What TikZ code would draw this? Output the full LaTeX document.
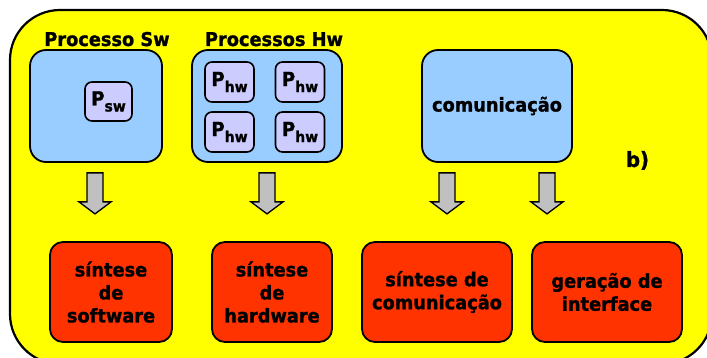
\documentclass[tikz,border=0pt]{standalone}
\usepackage{fontspec}
\setmainfont{DejaVu Sans}[FakeStretch=0.935, BoldFeatures={FakeBold=1.2}]
\usetikzlibrary{calc}
\definecolor{bgyellow}{HTML}{FFFF00}
\definecolor{procblue}{HTML}{99CCFF}
\definecolor{proclav}{HTML}{CCCCFF}
\definecolor{synthred}{HTML}{FF3300}
\definecolor{arrowgray}{HTML}{C0C0C0}
\begin{document}
\begin{tikzpicture}[x=1pt,y=-1pt,
  every node/.style={font=\bfseries\fontsize{19}{23}\selectfont},
  procbox/.style={draw, line width=1.8pt, fill=procblue, rounded corners=16pt, inner sep=0pt},
  pbox/.style={draw, line width=1.6pt, fill=proclav, rounded corners=7pt, inner sep=0pt,
    font=\bfseries\fontsize{19.5}{19.5}\selectfont},
  synthbox/.style={draw, line width=1.8pt, fill=synthred, rounded corners=13pt, inner sep=0pt,
    align=center, minimum height=100pt},
  title/.style={anchor=base, inner sep=0pt},
  blockarrow/.pic={\draw[line width=1.3pt, fill=arrowgray, line join=miter]
    (-8,0) -- (8,0) -- (8,29) -- (16,29) -- (0,41) -- (-16,29) -- (-8,29) -- cycle;}
]
\newcommand{\subtxt}[1]{\raisebox{-6pt}{\fontsize{15}{15}\selectfont #1}}
\useasboundingbox (0,0) rectangle (707,358);

% yellow frame, cut off at the page edges
\begin{scope}
  \clip (0,0) rectangle (707,358);
  \draw[line width=2.2pt, fill=bgyellow, rounded corners=50pt] (10,10) rectangle (712,364);
\end{scope}

% process groups
\node[title] (swt) at (107,46) {Processo Sw};
\node[title] (hwt) at (274,46) {Processos Hw};
\node[procbox, minimum width=132pt, minimum height=112pt] (sw) at (96,106) {};
\node[procbox, minimum width=150pt, minimum height=112pt] (hw) at (267,106) {};
\node[procbox, minimum width=150pt, minimum height=112pt] (comm) at (497,106) {comunicação};

\node[pbox, minimum width=47pt, minimum height=39pt] (psw) at (108.5,101.5) {P\subtxt{sw}};
\node[pbox, minimum width=49pt, minimum height=40pt] (phw1) at (229.5,82) {P\subtxt{hw}};
\node[pbox, minimum width=49pt, minimum height=40pt] (phw2) at (300,82) {P\subtxt{hw}};
\node[pbox, minimum width=49pt, minimum height=40pt] (phw3) at (229.5,132) {P\subtxt{hw}};
\node[pbox, minimum width=49pt, minimum height=40pt] (phw4) at (300,132) {P\subtxt{hw}};

\node[title, font=\bfseries\fontsize{21}{21}\selectfont] (lbl) at (637.5,167) {b)};

% synthesis steps
\node[synthbox, minimum width=122pt] (ssw) at (111,292) {síntese\\de\\software};
\node[synthbox, minimum width=120pt] (shw) at (272,292) {síntese\\de\\hardware};
\node[synthbox, minimum width=150pt] (scom) at (437,292) {síntese de\\comunicação};
\node[synthbox, minimum width=150pt] (gint) at (607,292) {geração de\\interface};

% block arrows below the process groups
\pic at ($(sw.south)+(-1,10)$) {blockarrow};
\pic at ($(hw.south)+(0,10)$) {blockarrow};
\pic at ($(comm.south)+(-50,10)$) {blockarrow};
\pic at ($(comm.south)+(50,10)$) {blockarrow};
\end{tikzpicture}
\end{document}
